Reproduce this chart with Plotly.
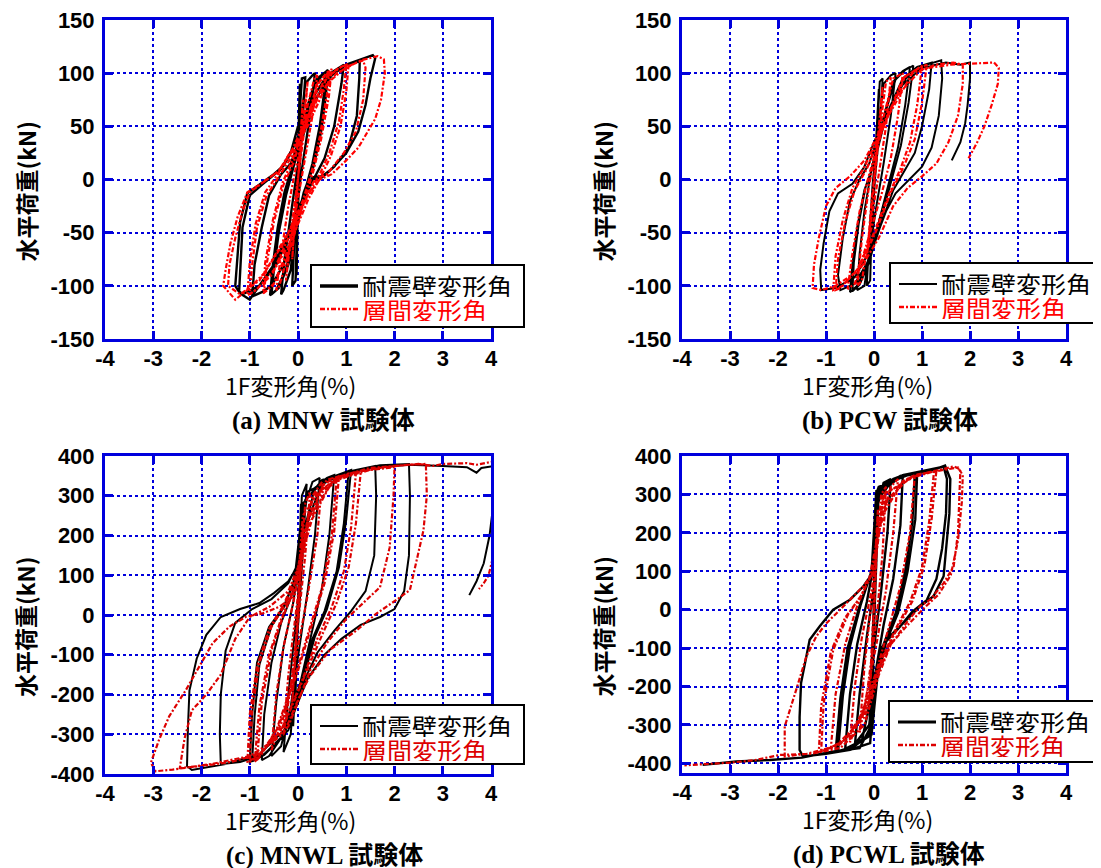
import plotly.graph_objects as go

# ---------------- data ----------------
# (a) MNW specimen: wall deformation angle (black) / story drift angle (red)
A_WALL_X = [0,
    0.02, 0.03, 0.0, -0.02, -0.03, 0.0,
    0.02, 0.04, 0.02, -0.01, -0.03, -0.01,
    0.03, 0.08, 0.15, 0.1, 0.03, -0.02, -0.05, -0.12, -0.08, -0.02,
    0.05, 0.15, 0.3, 0.35, 0.28, 0.15, 0.05, -0.05, -0.15, -0.3, -0.35, -0.28, -0.15, -0.05,
    0.05, 0.2, 0.4, 0.6, 0.55, 0.45, 0.3, 0.15, 0.0, -0.2, -0.4, -0.55, -0.5, -0.4, -0.25, -0.1,
    0.1, 0.3, 0.5, 0.62, 0.58, 0.48, 0.32, 0.12, -0.05, -0.25, -0.45, -0.58, -0.52, -0.42, -0.28, -0.12,
    0.1, 0.35, 0.6, 0.8, 0.95, 0.9, 0.75, 0.55, 0.35, 0.15, -0.05, -0.3, -0.55, -0.75, -0.95, -0.9, -0.75, -0.6, -0.35, -0.15,
    0.05, 0.35, 0.7, 1.0, 1.28, 1.27, 1.22, 1.05, 0.75, 0.5, 0.3, 0.15, -0.1, -0.45, -0.8, -1.15, -1.22, -1.18, -1.15, -1.0, -0.75, -0.35, -0.1,
    0.2, 0.6, 1.0, 1.3, 1.55, 1.6, 1.5, 1.4, 1.25, 1.0, 0.7, 0.5, 0.3, 0.15, -0.1, -0.5, -0.8, -1.0, -1.2, -1.3, -1.25, -1.2, -1.05, -0.8, -0.5, -0.3, -0.15, 0.0]
A_WALL_Y = [0,
    40, 75, 30, -30, -70, -20,
    60, 90, 40, -40, -90, -40,
    60, 95, 96, 60, 10, -50, -95, -100, -60, -5,
    50, 90, 98, 100, 70, 30, 0, -40, -85, -104, -108, -75, -35, 0,
    30, 70, 95, 102, 85, 50, 15, -10, -40, -80, -102, -108, -85, -50, -15, 10,
    45, 85, 98, 103, 80, 45, 12, -12, -45, -85, -104, -109, -80, -45, -12, 12,
    40, 80, 98, 104, 108, 90, 50, 20, 3, -15, -45, -80, -100, -106, -110, -80, -45, -15, 5, 15,
    40, 75, 98, 108, 112, 95, 60, 30, 12, 2, 0, -15, -45, -80, -100, -108, -105, -75, -45, -15, -5, 10, 30,
    60, 95, 108, 113, 117, 114, 95, 70, 45, 25, 10, 3, 2, -12, -40, -80, -100, -113, -107, -100, -70, -40, -13, -5, 5, 13, 25, 50]
A_STORY_X = [0,
    0.05, 0.1, 0.05, -0.05, -0.12, -0.05,
    0.1, 0.2, 0.1, -0.05, -0.15, -0.25, -0.15,
    0.05, 0.2, 0.35, 0.4, 0.3, 0.15, 0.0, -0.2, -0.4, -0.45, -0.35, -0.2, -0.05,
    0.15, 0.4, 0.65, 0.6, 0.45, 0.3, 0.1, -0.2, -0.5, -0.7, -0.65, -0.5, -0.3, -0.1,
    0.18, 0.45, 0.7, 0.64, 0.48, 0.32, 0.12, -0.18, -0.52, -0.72, -0.68, -0.52, -0.32, -0.12,
    0.2, 0.55, 0.85, 1.0, 0.95, 0.85, 0.65, 0.45, 0.2, -0.15, -0.5, -0.85, -1.0, -0.95, -0.85, -0.65, -0.4, -0.15,
    0.25, 0.6, 0.9, 1.05, 1.0, 0.88, 0.68, 0.48, 0.22, -0.12, -0.55, -0.9, -1.05, -1.0, -0.88, -0.68, -0.42, -0.18,
    0.2, 0.6, 1.0, 1.35, 1.4, 1.35, 1.2, 0.95, 0.6, 0.35, 0.1, -0.3, -0.8, -1.2, -1.45, -1.42, -1.3, -1.15, -1.0, -0.7, -0.4, -0.15,
    0.3, 0.8, 1.3, 1.65, 1.78, 1.8, 1.72, 1.6, 1.45, 1.25, 1.0, 0.7, 0.45, 0.2, -0.2, -0.7, -1.0, -1.3, -1.55, -1.5, -1.4, -1.25, -1.05, -0.8, -0.4, -0.1]
A_STORY_Y = [0,
    40, 75, 30, -30, -75, -25,
    50, 92, 40, -20, -60, -95, -50,
    20, 70, 97, 98, 60, 20, -20, -70, -102, -104, -70, -25, 10,
    50, 90, 103, 80, 40, 10, -20, -65, -98, -106, -80, -40, -5, 15,
    55, 92, 104, 78, 38, 8, -22, -68, -100, -107, -78, -38, -3, 18,
    55, 95, 105, 108, 85, 55, 25, 5, -15, -50, -85, -103, -108, -80, -45, -15, 3, 20,
    60, 96, 106, 109, 82, 50, 22, 3, -18, -55, -90, -105, -109, -78, -42, -12, 5, 22,
    50, 90, 106, 112, 105, 75, 45, 25, 5, 0, -20, -60, -95, -108, -100, -80, -55, -30, -12, -2, 8, 25,
    70, 100, 112, 116, 113, 100, 75, 57, 45, 30, 18, 5, 0, -15, -50, -88, -102, -113, -100, -85, -60, -35, -12, -5, 8, 30]

# (b) PCW specimen
B_WALL_X = [0,
    0.05, 0.1, 0.06, -0.02, -0.05, -0.02,
    0.06, 0.12, 0.18, 0.12, 0.02, -0.05, -0.08, -0.15, -0.1, -0.03,
    0.08, 0.2, 0.35, 0.45, 0.35, 0.2, 0.05, -0.1, -0.2, -0.35, -0.3, -0.2, -0.05,
    0.15, 0.4, 0.6, 0.75, 0.65, 0.5, 0.3, 0.1, -0.15, -0.35, -0.5, -0.45, -0.35, -0.2, 0.0,
    0.18, 0.45, 0.65, 0.82, 0.72, 0.56, 0.35, 0.14, -0.1, -0.3, -0.45, -0.42, -0.32, -0.18, 0.02,
    0.25, 0.6, 0.9, 1.2, 1.15, 1.0, 0.85, 0.6, 0.4, 0.2, -0.1, -0.4, -0.7, -0.75, -0.65, -0.5, -0.3, -0.1,
    0.2, 0.7, 1.1, 1.4, 1.42, 1.35, 1.2, 1.0, 0.7, 0.45, 0.25, 0.0, -0.4, -0.8, -1.1, -1.12, -1.05, -0.93, -0.75, -0.45, -0.2, 0.0,
    0.5, 1.0, 1.5, 1.8, 2.0, 2.0, 1.95, 1.9, 1.8, 1.7, 1.62]
B_WALL_Y = [0,
    50, 85, 40, -20, -70, -30,
    40, 92, 95, 50, 0, -50, -95, -100, -55, -5,
    45, 90, 98, 100, 60, 15, -25, -70, -100, -104, -70, -30, 10,
    50, 92, 102, 106, 70, 30, -5, -40, -80, -100, -106, -80, -45, -10, 15,
    55, 94, 103, 107, 72, 32, -3, -38, -78, -99, -105, -78, -42, -8, 18,
    60, 95, 106, 110, 85, 50, 25, 5, -10, -35, -75, -98, -104, -90, -55, -20, 0, 15,
    55, 98, 108, 112, 95, 60, 30, 12, -2, -13, -30, -60, -92, -102, -104, -85, -60, -30, -13, -4, 12, 35,
    85, 105, 110, 108, 110, 95, 70, 53, 35, 25, 18]
B_STORY_X = [0,
    0.1, 0.18, 0.1, -0.05, -0.15, -0.05,
    0.1, 0.25, 0.35, 0.25, 0.1, -0.1, -0.25, -0.35, -0.25, -0.1,
    0.15, 0.4, 0.6, 0.5, 0.35, 0.15, -0.15, -0.4, -0.55, -0.45, -0.3, -0.1,
    0.2, 0.6, 0.9, 1.0, 0.9, 0.75, 0.55, 0.3, 0.0, -0.35, -0.7, -0.8, -0.75, -0.6, -0.4, -0.15,
    0.25, 0.65, 0.95, 1.1, 1.0, 0.85, 0.62, 0.35, 0.05, -0.3, -0.65, -0.85, -0.8, -0.65, -0.45, -0.2,
    0.3, 0.8, 1.3, 1.65, 1.85, 1.85, 1.75, 1.55, 1.3, 1.0, 0.7, 0.4, 0.1, -0.3, -0.8, -1.1, -1.28, -1.25, -1.15, -1.0, -0.8, -0.5, -0.2, 0.0,
    0.5, 1.0, 1.6, 2.1, 2.5, 2.6, 2.58, 2.45, 2.3, 2.15, 1.97]
B_STORY_Y = [0,
    50, 88, 40, -25, -75, -20,
    40, 92, 96, 50, 5, -50, -95, -100, -55, -5,
    50, 95, 100, 60, 20, -15, -60, -98, -103, -70, -30, 5,
    50, 95, 104, 107, 70, 35, 10, -15, -50, -85, -102, -104, -75, -40, -10, 10,
    55, 97, 105, 108, 72, 38, 12, -12, -48, -82, -100, -104, -72, -38, -8, 12,
    60, 100, 108, 110, 108, 90, 60, 35, 15, 3, -8, -25, -55, -85, -100, -104, -102, -80, -55, -25, -8, 3, 18, 35,
    80, 104, 108, 109, 110, 105, 90, 70, 50, 35, 20]

# (c) MNWL specimen
C_WALL_X = [0,
    0.02, 0.04, 0.02, -0.02, -0.05, -0.02,
    0.03, 0.06, 0.03, -0.03, -0.1, -0.05,
    0.03, 0.08, 0.18, 0.12, 0.05, -0.05, -0.15, -0.3, -0.2, -0.08,
    0.05, 0.15, 0.3, 0.45, 0.35, 0.2, 0.05, -0.15, -0.35, -0.55, -0.45, -0.3, -0.1,
    0.1, 0.35, 0.6, 0.75, 0.65, 0.5, 0.3, 0.05, -0.3, -0.6, -0.75, -0.7, -0.55, -0.35, -0.1,
    0.1, 0.5, 0.9, 1.05, 0.95, 0.8, 0.55, 0.3, 0.05, -0.35, -0.75, -1.0, -0.95, -0.85, -0.6, -0.3, -0.1,
    0.12, 0.55, 0.95, 1.1, 1.0, 0.85, 0.6, 0.35, 0.08, -0.3, -0.7, -0.95, -0.9, -0.8, -0.55, -0.28, -0.08,
    0.15, 0.6, 1.2, 1.6, 1.62, 1.58, 1.4, 1.1, 0.75, 0.4, 0.15, -0.2, -0.7, -1.2, -1.6, -1.62, -1.6, -1.5, -1.3, -0.95, -0.55, -0.2, 0.0,
    0.2, 1.0, 1.7, 2.3, 2.32, 2.3, 2.2, 2.0, 1.7, 1.3, 0.9, 0.55, 0.2, -0.2, -0.8, -1.5, -2.2, -2.3, -2.28, -2.25, -2.1, -1.9, -1.6, -1.2, -0.8, -0.5, -0.2, -0.05,
    0.1, 0.5, 1.5, 2.3, 3.0, 3.5, 3.7, 3.8, 4.1, 4.4, 4.2, 4.05, 3.97, 3.85, 3.7, 3.55]
C_WALL_Y = [0,
    100, 200, 100, -100, -200, -80,
    150, 280, 120, -120, -280, -120,
    100, 300, 330, 200, 60, -120, -300, -345, -200, -60,
    100, 280, 335, 345, 200, 60, -60, -230, -330, -355, -220, -80, 30,
    200, 320, 345, 352, 200, 70, -40, -170, -300, -355, -365, -250, -120, -20, 60,
    200, 335, 355, 362, 230, 110, 10, -60, -180, -310, -355, -370, -250, -120, -30, 20, 80,
    220, 340, 358, 365, 240, 120, 15, -55, -175, -305, -352, -368, -255, -125, -28, 22, 85,
    290, 345, 365, 375, 300, 150, 60, 10, -40, -95, -160, -290, -350, -370, -375, -300, -200, -90, -20, 15, 40, 80, 130,
    310, 360, 377, 380, 300, 150, 60, 15, -5, -25, -60, -100, -160, -280, -350, -375, -390, -380, -280, -190, -110, -50, -5, 15, 30, 55, 85, 115,
    280, 340, 370, 378, 375, 372, 358, 370, 375, 372, 340, 280, 200, 130, 85, 50]
C_STORY_X = [0,
    0.05, 0.1, 0.05, -0.05, -0.12, -0.05,
    0.05, 0.15, 0.25, 0.15, 0.0, -0.15, -0.3, -0.2, -0.05,
    0.1, 0.3, 0.5, 0.4, 0.2, 0.0, -0.25, -0.55, -0.45, -0.3, -0.1,
    0.15, 0.45, 0.8, 0.7, 0.5, 0.25, -0.05, -0.45, -0.8, -0.9, -0.8, -0.6, -0.35, -0.1,
    0.2, 0.55, 0.85, 0.75, 0.55, 0.3, 0.0, -0.4, -0.75, -0.85, -0.75, -0.55, -0.3, -0.05,
    0.2, 0.7, 1.2, 1.1, 0.95, 0.7, 0.4, 0.1, -0.35, -0.8, -1.0, -0.95, -0.8, -0.55, -0.25, 0.0,
    0.25, 0.75, 1.3, 1.2, 1.05, 0.8, 0.5, 0.15, -0.3, -0.75, -1.05, -1.0, -0.85, -0.6, -0.3, 0.0,
    0.3, 0.9, 1.5, 2.0, 1.98, 1.9, 1.7, 1.35, 1.0, 0.6, 0.25, -0.2, -0.8, -1.4, -2.0, -2.45, -2.35, -2.2, -1.9, -1.6, -1.3, -1.0, -0.6, -0.2, 0.0,
    0.3, 1.0, 1.8, 2.3, 2.65, 2.67, 2.6, 2.46, 2.32, 2.04, 1.84, 1.63, 1.2, 0.66, 0.24, 0.03, -0.3, -1.0, -1.8, -2.6, -2.95, -3.05, -2.88, -2.67, -2.32, -2.04, -1.77, -1.42, -1.07, -0.73, -0.38, -0.1, 0.0,
    0.1, 0.6, 1.5, 2.5, 2.8, 3.0, 3.5, 3.7, 4.0, 4.3, 4.2, 4.05, 3.95, 3.85, 3.75]
C_STORY_Y = [0,
    120, 230, 100, -100, -220, -80,
    120, 280, 310, 150, -20, -180, -300, -150, 0,
    150, 300, 335, 200, 50, -80, -240, -340, -200, -80, 30,
    180, 310, 345, 200, 70, -30, -150, -290, -355, -370, -230, -100, -10, 60,
    240, 330, 350, 210, 80, -20, -140, -280, -350, -365, -220, -90, 0, 70,
    220, 335, 355, 220, 110, 20, -60, -160, -290, -350, -370, -240, -120, -30, 30, 100,
    250, 340, 360, 230, 120, 30, -50, -150, -280, -345, -372, -250, -130, -35, 25, 110,
    290, 345, 365, 372, 300, 170, 70, 30, -10, -70, -140, -280, -350, -370, -380, -385, -310, -240, -200, -150, -60, -5, 20, 60, 120,
    300, 355, 372, 378, 380, 300, 213, 138, 63, 38, 21, 4, -40, -88, -155, -205, -300, -355, -375, -389, -393, -372, -314, -255, -188, -130, -71, -29, -4, 4, 21, 46, 80,
    250, 340, 370, 380, 375, 380, 382, 378, 385, 380, 300, 150, 100, 80, 65]

# (d) PCWL specimen
D_WALL_X = [0,
    0.01, 0.02, 0.01, -0.01, -0.03, -0.01,
    0.02, 0.04, 0.1, 0.06, 0.0, -0.05, -0.1, -0.05, 0.0,
    0.03, 0.2, 0.35, 0.28, 0.15, 0.0, -0.1, -0.25, -0.4, -0.3, -0.15, 0.0,
    0.05, 0.4, 0.6, 0.55, 0.4, 0.2, 0.05, -0.1, -0.4, -0.6, -0.5, -0.35, -0.15, 0.0,
    0.05, 0.5, 0.85, 0.8, 0.65, 0.45, 0.2, 0.05, -0.05, -0.5, -0.8, -0.7, -0.55, -0.3, -0.05,
    0.05, 0.55, 0.9, 0.86, 0.7, 0.5, 0.25, 0.07, -0.05, -0.45, -0.75, -0.65, -0.5, -0.28, -0.04,
    0.1, 0.7, 1.2, 1.48, 1.59, 1.57, 1.5, 1.45, 1.24, 0.96, 0.61, 0.33, 0.13, 0.02, -0.08, -0.5, -1.0, -1.48, -1.55, -1.55, -1.52, -1.34, -1.13, -0.85, -0.5, -0.22, 0.0,
    0.05, 0.6, 1.2, 1.45, 1.52, 1.5, 1.42, 1.3, 1.1, 0.8, 0.5, 0.2, 0.05, -0.05, -0.3, -0.9, -1.5, -2.17, -2.87, -3.3, -3.57]
D_WALL_Y = [0,
    150, 250, 100, -100, -230, -80,
    150, 300, 320, 150, -50, -250, -330, -150, 20,
    250, 330, 340, 200, 50, -100, -250, -340, -355, -220, -70, 60,
    280, 340, 350, 220, 80, -40, -150, -300, -350, -362, -220, -90, 20, 120,
    300, 345, 355, 230, 100, -10, -90, -180, -320, -360, -370, -230, -100, 10, 100,
    310, 348, 357, 235, 100, -8, -85, -175, -325, -358, -368, -225, -95, 12, 105,
    320, 350, 362, 375, 340, 250, 156, 87, 35, 9, -35, -69, -104, -174, -347, -365, -375, -382, -365, -280, -191, -78, -43, 0, 26, 61, 100,
    300, 350, 365, 372, 340, 250, 160, 80, 25, -5, -50, -90, -160, -300, -360, -370, -385, -391, -395, -400, -404]
D_STORY_X = [0,
    0.03, 0.08, 0.04, -0.03, -0.1, -0.04,
    0.05, 0.15, 0.25, 0.18, 0.05, -0.15, -0.3, -0.2, -0.05,
    0.1, 0.35, 0.5, 0.4, 0.25, 0.05, -0.2, -0.5, -0.4, -0.25, -0.05,
    0.15, 0.6, 0.85, 0.75, 0.55, 0.3, 0.05, -0.3, -0.7, -0.9, -0.8, -0.6, -0.35, -0.1,
    0.2, 0.7, 1.1, 1.25, 1.15, 1.0, 0.75, 0.45, 0.15, -0.2, -0.6, -1.0, -1.15, -1.1, -0.9, -0.6, -0.3, -0.05,
    0.22, 0.75, 1.15, 1.3, 1.2, 1.05, 0.8, 0.5, 0.18, -0.15, -0.55, -0.95, -1.1, -1.05, -0.85, -0.55, -0.28, -0.03,
    0.2, 0.9, 1.4, 1.66, 1.8, 1.78, 1.75, 1.66, 1.45, 1.17, 0.96, 0.7, 0.33, 0.1, -0.2, -0.8, -1.4, -1.86, -1.86, -1.62, -1.41, -1.2, -0.99, -0.78, -0.5, -0.22, 0.0,
    0.2, 0.9, 1.5, 1.75, 1.85, 1.83, 1.75, 1.6, 1.35, 1.05, 0.7, 0.35, 0.1, -0.2, -0.7, -1.3, -1.97, -2.5, -3.0, -3.5, -3.95]
D_STORY_Y = [0,
    150, 260, 100, -100, -240, -80,
    150, 300, 320, 150, -30, -220, -320, -150, 20,
    200, 320, 340, 200, 50, -90, -250, -345, -200, -70, 50,
    240, 335, 350, 200, 60, -50, -160, -290, -350, -362, -220, -90, 10, 80,
    270, 340, 355, 360, 230, 110, 20, -50, -130, -260, -340, -365, -370, -250, -110, -20, 30, 90,
    280, 345, 358, 362, 235, 115, 22, -45, -125, -255, -335, -362, -368, -245, -105, -15, 35, 95,
    300, 350, 365, 373, 365, 280, 200, 113, 69, 26, 9, -30, -95, -160, -280, -355, -375, -382, -304, -208, -122, -69, -35, -9, 26, 61, 100,
    300, 352, 365, 370, 350, 280, 180, 90, 40, 5, -40, -90, -170, -300, -360, -375, -378, -392, -398, -402, -405]

X_TICKS = [-4, -3, -2, -1, 0, 1, 2, 3, 4]
Y_TICKS_AB = [-150, -100, -50, 0, 50, 100, 150]
Y_TICKS_CD = [-400, -300, -200, -100, 0, 100, 200, 300, 400]
Y_RANGE_AB = [-150, 150]
Y_RANGE_C = [-400, 400]
Y_RANGE_D = [-425, 400]
NAME_WALL = "耐震壁変形角"
NAME_STORY = "層間変形角"
X_TITLE = "1F変形角(%)"
Y_TITLE = "水平荷重(kN)"
CAPTIONS = ["(a) MNW 試験体", "(b) PCW 試験体", "(c) MNWL 試験体", "(d) PCWL 試験体"]

for xs, ys in [(A_WALL_X, A_WALL_Y), (A_STORY_X, A_STORY_Y), (B_WALL_X, B_WALL_Y),
               (B_STORY_X, B_STORY_Y), (C_WALL_X, C_WALL_Y), (C_STORY_X, C_STORY_Y),
               (D_WALL_X, D_WALL_Y), (D_STORY_X, D_STORY_Y)]:
    assert len(xs) == len(ys), (len(xs), len(ys))

# ---------------- figure ----------------
W, H = 1101, 868
OFF = 8          # the page body has an 8px margin; positions below are screen pixels
BLUE = "#0000DD"
CJK = "Noto Sans CJK JP"
RED_DASH = "5px,2px,2px,2px"


def px_x(p):
    return (p - OFF) / W


def px_y(p):
    return 1 - (p - OFF) / H


panels = [
    dict(wall=(A_WALL_X, A_WALL_Y), story=(A_STORY_X, A_STORY_Y), xd=(105, 491), yd=(20, 339),
         yr=Y_RANGE_AB, yt=Y_TICKS_AB, red="#FF0000", box=(311, 265, 524, 327), wallw=2.4, legw=3.5,
         xt=290, cap=323),
    dict(wall=(B_WALL_X, B_WALL_Y), story=(B_STORY_X, B_STORY_Y), xd=(682, 1066), yd=(20, 339),
         yr=Y_RANGE_AB, yt=Y_TICKS_AB, red="#FF0000", box=(890, 263, 1100, 323), wallw=2.0, legw=2.2,
         xt=867, cap=890),
    dict(wall=(C_WALL_X, C_WALL_Y), story=(C_STORY_X, C_STORY_Y), xd=(105, 491), yd=(456, 774),
         yr=Y_RANGE_C, yt=Y_TICKS_CD, red="#DD0000", box=(311, 705, 524, 764), wallw=2.0, legw=2.2,
         xt=290, cap=324),
    dict(wall=(D_WALL_X, D_WALL_Y), story=(D_STORY_X, D_STORY_Y), xd=(682, 1066), yd=(456, 773),
         yr=Y_RANGE_D, yt=Y_TICKS_CD, red="#DD0000", box=(889, 701, 1099, 762), wallw=2.4, legw=3.2,
         xt=867, cap=889),
]

fig = go.Figure()
layout = dict(width=W, height=H, margin=dict(l=0, r=0, t=0, b=0, autoexpand=False),
              paper_bgcolor="white", plot_bgcolor="white", showlegend=False)
annotations = []
shapes = []
tickfont = dict(family="Liberation Sans, Arial", size=22, color="black", weight="bold")

for i, p in enumerate(panels):
    n = "" if i == 0 else str(i + 1)
    xa, ya = "x" + n, "y" + n
    fig.add_trace(go.Scatter(x=p["wall"][0], y=p["wall"][1], mode="lines", xaxis=xa, yaxis=ya,
                             name=NAME_WALL, line=dict(color="black", width=p["wallw"])))
    fig.add_trace(go.Scatter(x=p["story"][0], y=p["story"][1], mode="lines", xaxis=xa, yaxis=ya,
                             name=NAME_STORY, line=dict(color=p["red"], width=2.2, dash=RED_DASH)))
    common = dict(showline=True, linecolor=BLUE, linewidth=3, mirror="ticks", automargin=False,
                  showgrid=True, gridcolor=BLUE, gridwidth=2, griddash="dot",
                  zeroline=False, ticks="inside", ticklen=8, tickwidth=3, tickcolor=BLUE,
                  tickfont=tickfont, ticklabeloverflow="allow")
    layout["xaxis" + n] = dict(domain=[px_x(p["xd"][0]), px_x(p["xd"][1])], anchor=ya,
                               range=[-4, 4], tickvals=X_TICKS, ticktext=[str(v) for v in X_TICKS],
                               ticklabelstandoff=-2, **common)
    layout["yaxis" + n] = dict(domain=[px_y(p["yd"][1]), px_y(p["yd"][0])], anchor=xa,
                               range=p["yr"], tickvals=p["yt"], ticktext=[str(v) for v in p["yt"]],
                               ticklabelstandoff=3, **common)
    # legend box drawn in the panel's lower right, as in the reference
    bx0, by0, bx1, by1 = p["box"]
    shapes.append(dict(type="rect", xref="paper", yref="paper", x0=px_x(bx0), x1=px_x(bx1),
                       y0=px_y(by1), y1=px_y(by0), line=dict(color="black", width=2),
                       fillcolor="white", layer="above"))
    shapes.append(dict(type="line", xref="paper", yref="paper", x0=px_x(bx0 + 9), x1=px_x(bx0 + 47),
                       y0=px_y(by0 + 21), y1=px_y(by0 + 21), line=dict(color="black", width=p["legw"]),
                       layer="above"))
    shapes.append(dict(type="line", xref="paper", yref="paper", x0=px_x(bx0 + 9), x1=px_x(bx0 + 47),
                       y0=px_y(by0 + 44), y1=px_y(by0 + 44), line=dict(color=p["red"], width=2.6, dash=RED_DASH),
                       layer="above"))
    annotations.append(dict(text=NAME_WALL, x=px_x(bx0 + 49), y=px_y(by0 + 21), xref="paper", yref="paper",
                            showarrow=False, xanchor="left", yanchor="middle", height=22,
                            font=dict(family=CJK, size=25, color="black")))
    annotations.append(dict(text=NAME_STORY, x=px_x(bx0 + 49), y=px_y(by0 + 45), xref="paper", yref="paper",
                            showarrow=False, xanchor="left", yanchor="middle", height=22,
                            font=dict(family=CJK, size=25, color=p["red"])))
    yc = (p["yd"][0] + p["yd"][1]) / 2
    annotations.append(dict(text=X_TITLE, x=px_x(p["xt"]), y=px_y(p["yd"][1] + 46), xref="paper", yref="paper",
                            showarrow=False, xanchor="center", yanchor="middle",
                            font=dict(family=CJK, size=23, color="black")))
    annotations.append(dict(text=Y_TITLE, x=px_x(p["xd"][0] - 80), y=px_y(yc + 12), xref="paper", yref="paper",
                            showarrow=False, xanchor="center", yanchor="middle", textangle=-90,
                            font=dict(family=CJK, size=23, color="black", weight="bold")))
    annotations.append(dict(text=CAPTIONS[i], x=px_x(p["cap"]), y=px_y(p["yd"][1] + 82), xref="paper", yref="paper",
                            showarrow=False, xanchor="center", yanchor="middle",
                            font=dict(family="Liberation Serif, " + CJK, size=25, color="black", weight="bold")))

layout["annotations"] = annotations
layout["shapes"] = shapes
fig.update_layout(**layout)
fig.write_html("out.html")
